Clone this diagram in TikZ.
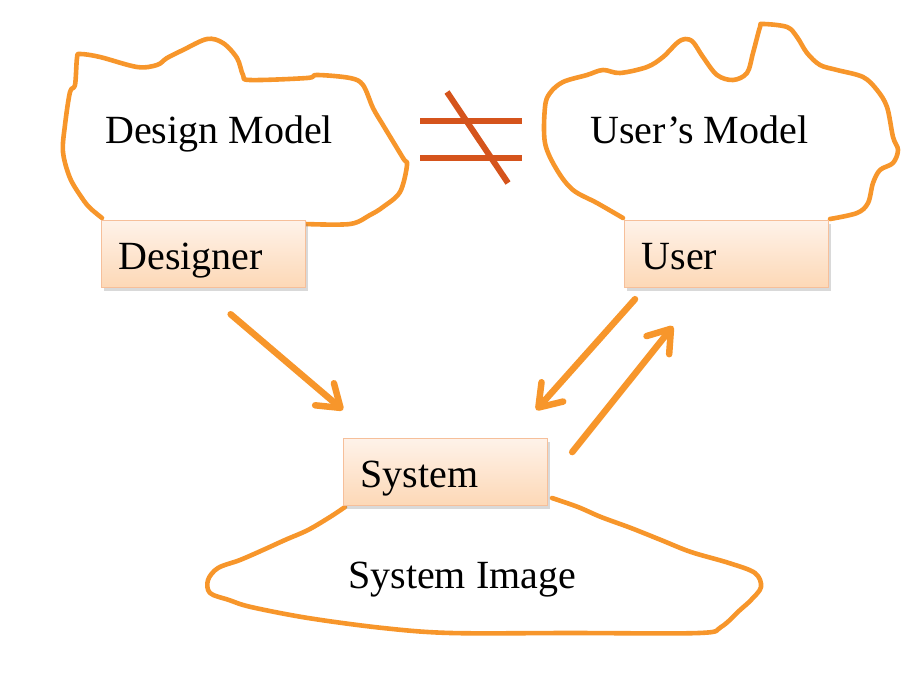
\documentclass[tikz,border=0pt]{standalone}
\usepackage{fontspec}
\setmainfont{Liberation Serif}
\usepackage{tikz}
\usetikzlibrary{arrows.meta,positioning,calc,shadows}

\definecolor{cloudorange}{HTML}{F7962B}
\definecolor{neqred}{HTML}{D5541C}
\definecolor{cardtop}{HTML}{FEF2E9}
\definecolor{cardbot}{HTML}{FDD8B6}
\definecolor{cardline}{HTML}{F6BF9A}

\begin{document}
\begin{tikzpicture}[
  x=1pt,y=-1pt,
  bigtext/.style={font=\fontsize{40}{48}\selectfont,inner sep=0pt,anchor=base west},
  card/.style={draw=cardline,line width=1.2pt,top color=cardtop,bottom color=cardbot,
    minimum width=204pt,minimum height=67pt,text width=170pt,align=left,
    inner xsep=17pt,inner ysep=0pt,text height=30pt,text depth=0pt,anchor=north west,
    font=\fontsize{40}{48}\selectfont,
    drop shadow={opacity=0.3,shadow xshift=2pt,shadow yshift=-3pt}},
  cloud/.style={cloudorange,line width=4.6pt,line join=round,line cap=round},
  flow/.style={cloudorange,line width=6.5pt,line cap=round,
    -{Straight Barb[length=21pt,width=29pt,round]}},
  neq/.style={neqred,line width=6pt},
]
  \useasboundingbox (0,0) rectangle (920,674);

  % Clouds behind the cards
  \draw[cloud] plot[smooth,tension=0.55] coordinates {
    (102,218) (90,208) (82,198) (70,178) (63,152) (65,125) (70,92) (75,85)
    (77,58) (80,54) (100,57) (137,67) (157,65) (167,58) (183,50) (207,39)
    (223,43) (237,58) (243,75) (250,80) (307,78) (317,75) (350,78) (363,85)
    (373,108) (383,125) (403,158) (407,165) (400,192) (383,207) (370,215)
    (350,224) (305,224)};
  \draw[cloud] plot[smooth,tension=0.55] coordinates {
    (623,218) (597,203) (573,190) (557,170) (545,143) (545,107) (550,93)
    (563,82) (587,75) (603,70) (620,73) (647,67) (663,57) (677,43) (685,39)
    (693,42) (703,57) (717,75) (733,80) (747,73) (753,53) (760,27) (763,24)
    (787,27) (797,37) (807,53) (820,65) (837,70) (863,77) (877,90) (887,107)
    (893,137) (898,150) (893,163) (880,170) (873,183) (868,203) (857,213)
    (830,219)};
  \draw[cloud] plot[smooth,tension=0.55] coordinates {
    (345,507) (330,517) (308,530) (285,540) (263,550) (240,560) (218,568)
    (208,580) (210,593) (229,600) (251,607) (308,618) (383,628) (451,633)
    (571,633) (699,633) (721,627) (740,610) (751,600) (761,587) (755,573)
    (729,563) (691,552) (661,540) (631,528) (601,517) (578,507) (552,498)};

  % Cloud labels
  \node[bigtext] (designmodel) at (105,143) {Design Model};
  \node[bigtext] (usersmodel) at (590,143) {User’s Model};
  \node[bigtext] (sysimage) at (348,588) {System Image};

  % Not equal sign
  \draw[neq] (420,121) -- (522,121);
  \draw[neq] (420,158) -- (522,158);
  \draw[neq] (447,92) -- (508,183);

  % Cards
  \node[card] (designer) at (101,220) {Designer};
  \node[card] (user) at (624,220) {User};
  \node[card] (system) at (343,438) {System};

  % Arrows between the cards
  \draw[flow] ($(designer.south)+(27,26)$) -- ($(system.north west)+(0,-28)$);
  \draw[flow] ($(user.south west)+(11,11)$) -- ($(system.north east)+(-12,-28)$);
  \draw[flow] ($(system.east)+(24,-20)$) -- ($(user.south west)+(49,38)$);
\end{tikzpicture}
\end{document}
